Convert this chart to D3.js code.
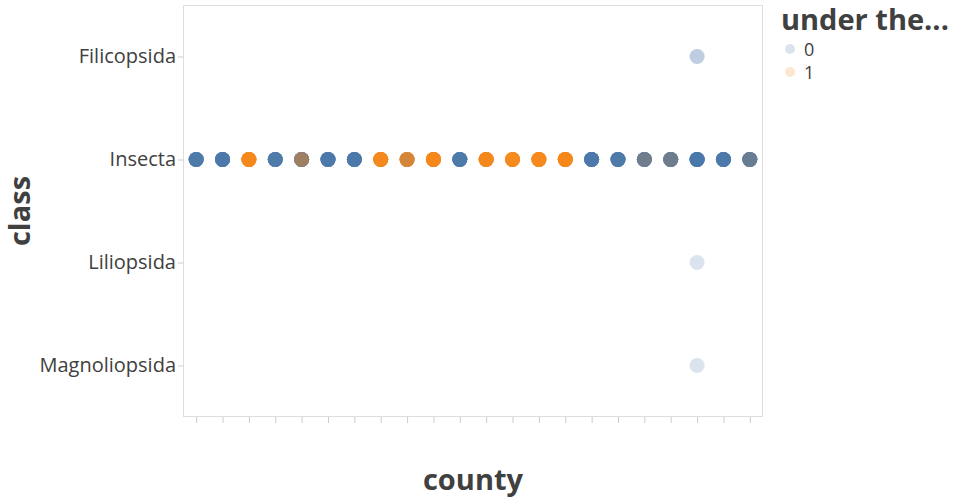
<!DOCTYPE html>
<html><head><meta charset="utf-8">
<script src="https://cdn.jsdelivr.net/npm/d3@7"></script>
<style>body{margin:0;background:#fff}svg{font-family:"Open Sans",sans-serif}</style>
</head><body><svg id="c" width="960" height="500"></svg>
<script>
// ---- data ----
const counties = ["C01","C02","C03","C04","C05","C06","C07","C08","C09","C10","C11",
                  "C12","C13","C14","C15","C16","C17","C18","C19","C20","C21","C22"];
const classes = ["Filicopsida","Insecta","Liliopsida","Magnoliopsida"];
const underValues = [0, 1];
// Insecta records per county, in drawing order: [under value, number of records]
const insectaLayers = [
  [[0,16]], [[0,18]], [[1,17]], [[0,15]], [[0,16],[1,3]], [[0,18]], [[0,17]],
  [[1,16]], [[1,15],[0,1]], [[1,18]], [[0,16]], [[1,17]], [[1,15]], [[1,16]],
  [[1,18]], [[0,17]], [[0,16]], [[0,15],[1,1]], [[0,16],[1,1]], [[0,20]], [[0,17]],
  [[0,15],[1,1],[0,1]]
];
// other classes: [class, county, under, count]
const otherRecords = [
  ["Filicopsida","C20",0,2],
  ["Liliopsida","C20",0,1],
  ["Magnoliopsida","C20",0,1]
];
const colorRange = ["#4c78a8","#f58518"];

// ---- build records ----
const records = [];
insectaLayers.forEach((layers,i)=>layers.forEach(([u,n])=>{
  for(let k=0;k<n;k++) records.push({county:counties[i],cls:"Insecta",under:u});
}));
otherRecords.forEach(([c,co,u,n])=>{for(let k=0;k<n;k++) records.push({county:co,cls:c,under:u});});

// ---- chart ----
const svg = d3.select("#c");
const L=183, R=763, T=5, B=417;
const x = d3.scalePoint().domain(counties).range([L,R]).padding(0.5);
const y = d3.scalePoint().domain(classes).range([T,B]).padding(0.5);
const color = d3.scaleOrdinal().domain(underValues).range(colorRange);

svg.append("rect").attr("x",L+0.5).attr("y",T+0.5).attr("width",R-L-1).attr("height",B-T-1)
  .attr("fill","none").attr("stroke","#ddd");

const xAxis = svg.append("g").attr("transform",`translate(0,${B})`)
  .call(d3.axisBottom(x).tickSize(6).tickFormat(""));
xAxis.select(".domain").remove();
xAxis.selectAll(".tick line").attr("stroke","#ccc");

const yAxis = svg.append("g").attr("transform",`translate(${L},0)`)
  .call(d3.axisLeft(y).tickSize(5).tickPadding(2));
yAxis.select(".domain").remove();
yAxis.selectAll(".tick line").attr("stroke","#ccc");
yAxis.selectAll(".tick text").attr("font-size",20).attr("fill","#404040")
  .attr("font-family","'Open Sans',sans-serif");

svg.append("g").selectAll("circle").data(records).join("circle")
  .attr("cx",d=>x(d.county)).attr("cy",d=>y(d.cls)).attr("r",7.5)
  .attr("fill",d=>color(d.under)).attr("fill-opacity",0.2);

svg.append("text").attr("x",(L+R)/2).attr("y",490).attr("text-anchor","middle")
  .attr("font-size",29).attr("font-weight","bold").attr("fill","#404040").text("county");
svg.append("text").attr("transform",`translate(30,${(T+B)/2}) rotate(-90)`).attr("text-anchor","middle")
  .attr("font-size",29).attr("font-weight","bold").attr("fill","#404040").text("class");

// legend
const lg = svg.append("g").attr("transform","translate(781,0)");
lg.append("text").attr("x",0).attr("y",30).attr("font-size",29).attr("font-weight","bold")
  .attr("fill","#404040").text("under the...");
underValues.forEach((v,i)=>{
  const g = lg.append("g").attr("transform",`translate(0,${49+i*23})`);
  g.append("circle").attr("cx",9).attr("cy",0).attr("r",5).attr("fill",color(v)).attr("fill-opacity",0.2);
  g.append("text").attr("x",23).attr("y",6.5).attr("font-size",18).attr("fill","#404040").text(v);
});
</script></body></html>
